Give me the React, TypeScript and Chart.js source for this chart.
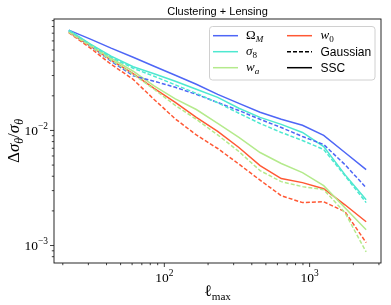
import React, { useEffect, useRef } from 'react';
import { Chart, registerables } from 'chart.js';
Chart.register(...registerables);

const ellMax = [22, 31, 43, 61, 85, 119, 166, 233, 326, 456, 638, 893, 1250, 1750, 2450];

const omegaM_SSC = [0.0744, 0.0622, 0.0519, 0.0433, 0.0361, 0.0302, 0.0252, 0.0206, 0.0172, 0.0144, 0.0125, 0.0111, 0.00905, 0.00643, 0.00457];
const omegaM_Gauss = [0.073, 0.054, 0.04, 0.0299, 0.0268, 0.0237, 0.0206, 0.0175, 0.0149, 0.0125, 0.0106, 0.00886, 0.00755, 0.00505, 0.00318];
const sigma8_SSC = [0.0744, 0.0562, 0.0442, 0.0358, 0.0311, 0.0268, 0.0228, 0.0194, 0.0156, 0.013, 0.0113, 0.00961, 0.00725, 0.00413, 0.0025];
const sigma8_Gauss = [0.0737, 0.0557, 0.0433, 0.0347, 0.0296, 0.0249, 0.021, 0.0174, 0.0141, 0.0115, 0.00961, 0.00818, 0.00683, 0.00405, 0.00236];
const wa_SSC = [0.0722, 0.0551, 0.0424, 0.0327, 0.0244, 0.0188, 0.0152, 0.0115, 0.00869, 0.00643, 0.00516, 0.0043, 0.00331, 0.00213, 0.00137];
const wa_Gauss = [0.0715, 0.054, 0.0408, 0.0308, 0.0228, 0.0165, 0.0125, 0.00914, 0.00656, 0.00448, 0.00359, 0.00325, 0.00306, 0.00193, 0.00088];
const w0_SSC = [0.0715, 0.054, 0.0408, 0.0311, 0.0232, 0.0175, 0.013, 0.0098, 0.00711, 0.00495, 0.00382, 0.00352, 0.00312, 0.00226, 0.00161];
const w0_Gauss = [0.0708, 0.0519, 0.0376, 0.0278, 0.0186, 0.0126, 0.00914, 0.00697, 0.0051, 0.0037, 0.00271, 0.00236, 0.0024, 0.00197, 0.00106];

const xMajorTicks = [100, 1000];
const xMinorTicks = [20, 30, 40, 50, 60, 70, 80, 90, 200, 300, 400, 500, 600, 700, 800, 900, 2000, 3000];
const yMajorTicks = [0.001, 0.01];
const yMinorTicks = [0.0008, 0.0009, 0.002, 0.003, 0.004, 0.005, 0.006, 0.007, 0.008, 0.009, 0.02, 0.03, 0.04, 0.05, 0.06, 0.07, 0.08, 0.09];
const xTickLabels = [['10', '2'], ['10', '3']];
const yTickLabels = [['10', '−3'], ['10', '−2']];

const titleText = 'Clustering + Lensing';

const COLORS = {
  omegaM: 'rgb(78,102,246)',
  sigma8: 'rgb(78,232,208)',
  wa: 'rgb(180,234,140)',
  w0: 'rgb(255,88,52)',
};

type Seg = { t: string; it?: boolean; s?: 'sub' | 'sup' };
const SERIF = '"Liberation Serif", "DejaVu Serif", serif';
const SANS = '"Liberation Sans", Arial, sans-serif';

function measureMath(ctx: CanvasRenderingContext2D, segs: Seg[], size: number) {
  let w = 0;
  const ws = segs.map((sg) => {
    ctx.font = `${sg.it ? 'italic ' : ''}${sg.s ? size * 0.7 : size}px ${SERIF}`;
    const m = ctx.measureText(sg.t).width;
    w += m;
    return m;
  });
  return { w, ws };
}

function drawMath(ctx: CanvasRenderingContext2D, segs: Seg[], x: number, y: number, size: number, align: 'left' | 'center' | 'right') {
  const { w, ws } = measureMath(ctx, segs, size);
  let cx = align === 'left' ? x : align === 'center' ? x - w / 2 : x - w;
  ctx.textAlign = 'left';
  ctx.textBaseline = 'alphabetic';
  segs.forEach((sg, i) => {
    ctx.font = `${sg.it ? 'italic ' : ''}${sg.s ? size * 0.7 : size}px ${SERIF}`;
    const dy = sg.s === 'sub' ? size * 0.22 : sg.s === 'sup' ? -size * 0.42 : 0;
    ctx.fillText(sg.t, cx, y + dy);
    cx += ws[i];
  });
}

const decorPlugin = {
  id: 'decor',
  afterDraw(chart: any) {
    const ctx: CanvasRenderingContext2D = chart.ctx;
    const { left, right, top, bottom } = chart.chartArea;
    const xs = chart.scales.x;
    const ys = chart.scales.y;
    ctx.save();
    ctx.strokeStyle = '#111';
    ctx.lineWidth = 0.9;
    ctx.strokeRect(left, top, right - left, bottom - top);

    const tick = (x1: number, y1: number, x2: number, y2: number) => {
      ctx.beginPath();
      ctx.moveTo(x1, y1);
      ctx.lineTo(x2, y2);
      ctx.stroke();
    };
    ctx.lineWidth = 0.8;
    xMinorTicks.forEach((v) => {
      const px = xs.getPixelForValue(v);
      if (px >= left && px <= right) tick(px, bottom, px, bottom + 2.2);
    });
    xMajorTicks.forEach((v) => {
      const px = xs.getPixelForValue(v);
      tick(px, bottom, px, bottom + 4);
    });
    yMinorTicks.forEach((v) => {
      const py = ys.getPixelForValue(v);
      if (py >= top && py <= bottom) tick(left, py, left - 2.2, py);
    });
    yMajorTicks.forEach((v) => {
      const py = ys.getPixelForValue(v);
      tick(left, py, left - 4, py);
    });

    ctx.fillStyle = '#000';
    const ts = 13.5;
    xMajorTicks.forEach((v, i) => {
      const px = xs.getPixelForValue(v);
      drawMath(ctx, [{ t: xTickLabels[i][0] }, { t: xTickLabels[i][1], s: 'sup' }], px, bottom + 19, ts, 'center');
    });
    yMajorTicks.forEach((v, i) => {
      const py = ys.getPixelForValue(v);
      drawMath(ctx, [{ t: yTickLabels[i][0] }, { t: yTickLabels[i][1], s: 'sup' }], left - 6, py + 4.5, ts, 'right');
    });

    // axis labels
    const cxPlot = (left + right) / 2;
    const cyPlot = (top + bottom) / 2;
    drawMath(ctx, [{ t: 'ℓ', it: false }, { t: 'max', s: 'sub' }], cxPlot, bottom + 33, 16, 'center');
    ctx.save();
    ctx.translate(19, cyPlot);
    ctx.rotate(-Math.PI / 2);
    drawMath(ctx, [{ t: 'Δ' }, { t: 'σ', it: true }, { t: 'θ', it: true, s: 'sub' }, { t: '/' }, { t: 'σ', it: true }, { t: 'θ', it: true, s: 'sub' }], 0, 0, 17, 'center');
    ctx.restore();

    // title
    ctx.font = `11px ${SANS}`;
    ctx.textAlign = 'center';
    ctx.textBaseline = 'alphabetic';
    ctx.fillText(titleText, cxPlot, 14.5);

    // legend
    const lx = 209.5, ly = 26.5, lw = 165.5, lh = 53.5, r = 3;
    ctx.beginPath();
    ctx.moveTo(lx + r, ly);
    ctx.lineTo(lx + lw - r, ly);
    ctx.quadraticCurveTo(lx + lw, ly, lx + lw, ly + r);
    ctx.lineTo(lx + lw, ly + lh - r);
    ctx.quadraticCurveTo(lx + lw, ly + lh, lx + lw - r, ly + lh);
    ctx.lineTo(lx + r, ly + lh);
    ctx.quadraticCurveTo(lx, ly + lh, lx, ly + lh - r);
    ctx.lineTo(lx, ly + r);
    ctx.quadraticCurveTo(lx, ly, lx + r, ly);
    ctx.closePath();
    ctx.fillStyle = 'rgba(255,255,255,0.8)';
    ctx.fill();
    ctx.strokeStyle = '#d0d0d0';
    ctx.lineWidth = 1;
    ctx.stroke();

    const rows = [35.7, 51.7, 67.7];
    const items: { color: string; dash: number[]; label: Seg[] | string; col: number; row: number }[] = [
      { color: COLORS.omegaM, dash: [], label: [{ t: 'Ω' }, { t: 'M', it: true, s: 'sub' }], col: 0, row: 0 },
      { color: COLORS.sigma8, dash: [], label: [{ t: 'σ', it: true }, { t: '8', s: 'sub' }], col: 0, row: 1 },
      { color: COLORS.wa, dash: [], label: [{ t: 'w', it: true }, { t: 'a', it: true, s: 'sub' }], col: 0, row: 2 },
      { color: COLORS.w0, dash: [], label: [{ t: 'w', it: true }, { t: '0', s: 'sub' }], col: 1, row: 0 },
      { color: '#000', dash: [4, 2], label: 'Gaussian', col: 1, row: 1 },
      { color: '#000', dash: [], label: 'SSC', col: 1, row: 2 },
    ];
    const colLine = [[213, 238], [287, 312]];
    const colText = [246, 320.5];
    items.forEach((it) => {
      const y = rows[it.row];
      ctx.strokeStyle = it.color;
      ctx.lineWidth = 1.5;
      ctx.setLineDash(it.dash);
      ctx.beginPath();
      ctx.moveTo(colLine[it.col][0], y);
      ctx.lineTo(colLine[it.col][1], y);
      ctx.stroke();
      ctx.setLineDash([]);
      ctx.fillStyle = '#000';
      if (typeof it.label === 'string') {
        ctx.font = `12px ${SANS}`;
        ctx.textAlign = 'left';
        ctx.textBaseline = 'alphabetic';
        ctx.fillText(it.label, colText[it.col], y + 4.3);
      } else {
        drawMath(ctx, it.label, colText[it.col], y + 3.5, 13, 'left');
      }
    });
    ctx.restore();
  },
};

function ds(label: string, data: number[], color: string, dashed: boolean) {
  return {
    label,
    data: data.map((v, i) => ({ x: ellMax[i], y: v })),
    borderColor: color,
    backgroundColor: color,
    borderWidth: 1.5,
    borderDash: dashed ? [4, 2] : [],
    pointRadius: 0,
    tension: 0,
    fill: false,
  };
}

export default function App() {
  const ref = useRef<HTMLCanvasElement | null>(null);
  useEffect(() => {
    if (!ref.current) return;
    const chart = new Chart(ref.current, {
      type: 'line',
      data: {
        datasets: [
          ds('wa Gaussian', wa_Gauss, COLORS.wa, true),
          ds('w0 Gaussian', w0_Gauss, COLORS.w0, true),
          ds('sigma8 Gaussian', sigma8_Gauss, COLORS.sigma8, true),
          ds('OmegaM Gaussian', omegaM_Gauss, COLORS.omegaM, true),
          ds('wa SSC', wa_SSC, COLORS.wa, false),
          ds('w0 SSC', w0_SSC, COLORS.w0, false),
          ds('sigma8 SSC', sigma8_SSC, COLORS.sigma8, false),
          ds('OmegaM SSC', omegaM_SSC, COLORS.omegaM, false),
        ],
      },
      options: {
        animation: false,
        responsive: false,
        events: [],
        layout: { padding: { left: 54, right: 10, top: 19, bottom: 42 } },
        plugins: { legend: { display: false }, title: { display: false }, tooltip: { enabled: false } },
        scales: {
          x: { type: 'logarithmic', min: 17.4, max: 3100, display: false },
          y: { type: 'logarithmic', min: 0.000705, max: 0.093, display: false },
        },
      },
      plugins: [decorPlugin],
    });
    return () => chart.destroy();
  }, []);
  return (
    <div style={{ position: 'absolute', left: 0, top: 0, width: 391, height: 305, background: '#fff' }}>
      <canvas ref={ref} width={391} height={305} style={{ display: 'block', width: 391, height: 305 }} />
    </div>
  );
}
